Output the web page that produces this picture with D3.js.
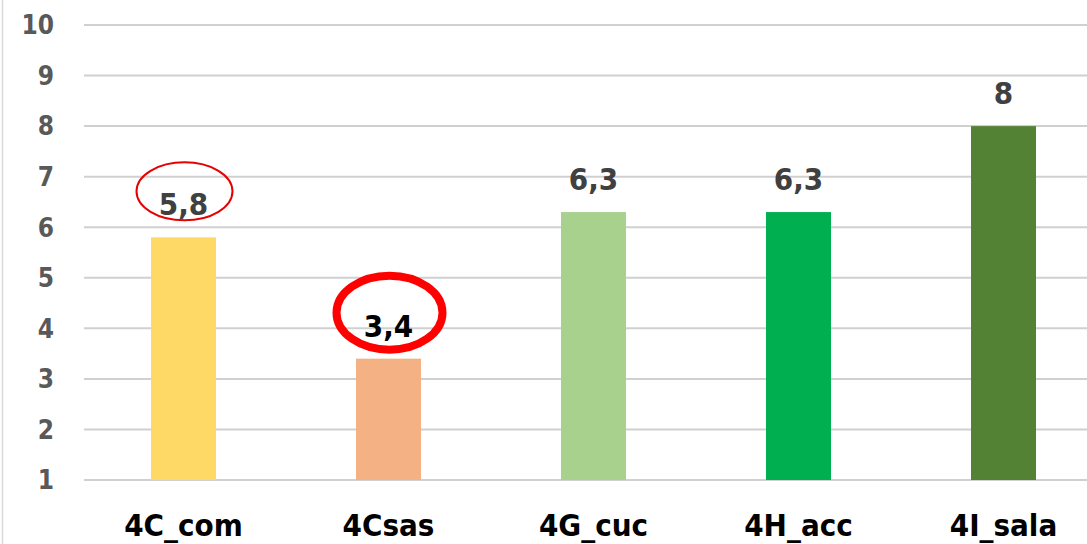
<!DOCTYPE html>
<html>
<head>
<meta charset="utf-8">
<script src="https://cdn.jsdelivr.net/npm/d3@7"></script>
<style>
  body { margin: 0; background: #fff; }
  svg { display: block; }
  .lbl { font-family: "Liberation Sans Narrow", "DejaVu Sans Condensed", Arial, sans-serif; font-weight: bold; }
</style>
</head>
<body>
<div id="chart"></div>
<script>
const categories = ['4C_com', '4Csas', '4G_cuc', '4H_acc', '4I_sala'];
const values = [5.8, 3.4, 6.3, 6.3, 8];
const valueLabels = ['5,8', '3,4', '6,3', '6,3', '8'];
const yTicks = [1, 2, 3, 4, 5, 6, 7, 8, 9, 10];
const barColors = ['#FFD966', '#F4B183', '#A9D18E', '#00B050', '#548235'];
// which labels got circled in red (thin / thick)
const circled = [{ cat: '4C_com', stroke: 2 }, { cat: '4Csas', stroke: 8 }];

const width = 1087, height = 544;

const svg = d3.select('#chart').append('svg')
  .attr('width', width)
  .attr('height', height);

// frame line on the left
svg.append('line')
  .attr('x1', 2.5).attr('x2', 2.5).attr('y1', 0).attr('y2', height)
  .attr('stroke', '#d9d9d9').attr('stroke-width', 1.5);

var x = d3.scaleBand()
  .domain(categories)
  .range([81, 1106])
  .paddingInner(0.683)
  .paddingOuter(0.683 / 2);

var y = d3.scaleLinear().domain([1, 10]).range([480, 25]);

// gridlines
svg.append('g')
  .selectAll('line')
  .data(yTicks)
  .enter()
  .append('line')
  .attr('x1', 84).attr('x2', width)
  .attr('y1', d => y(d)).attr('y2', d => y(d))
  .attr('stroke', '#d0d0d0')
  .attr('stroke-width', 2);

// y tick labels
svg.append('g')
  .selectAll('text')
  .data(yTicks)
  .enter()
  .append('text')
  .attr('class', 'lbl')
  .attr('x', 54)
  .attr('y', d => y(d))
  .attr('dy', '0.36em')
  .attr('text-anchor', 'end')
  .attr('fill', '#595959')
  .style('font-size', '26px')
  .text(d => d);

// bars
svg.append('g')
  .selectAll('rect')
  .data(categories)
  .enter()
  .append('rect')
  .attr('x', d => x(d))
  .attr('width', x.bandwidth())
  .attr('y', (d, i) => y(values[i]))
  .attr('height', (d, i) => y(1) - y(values[i]))
  .attr('fill', (d, i) => barColors[i]);

// value labels
svg.append('g')
  .selectAll('text')
  .data(categories)
  .enter()
  .append('text')
  .attr('class', 'lbl')
  .attr('x', d => x(d) + x.bandwidth() / 2)
  .attr('y', (d, i) => y(values[i]) - 22)
  .attr('text-anchor', 'middle')
  .attr('fill', d => d === '4Csas' ? '#000' : '#404040')
  .style('font-size', '31px')
  .text((d, i) => valueLabels[i]);

// category labels
svg.append('g')
  .selectAll('text')
  .data(categories)
  .enter()
  .append('text')
  .attr('class', 'lbl')
  .attr('x', d => x(d) + x.bandwidth() / 2)
  .attr('y', 536)
  .attr('text-anchor', 'middle')
  .attr('fill', '#000')
  .style('font-size', '31px')
  .text(d => d);

// red ellipses around circled labels
svg.append('g')
  .selectAll('ellipse')
  .data(circled)
  .enter()
  .append('ellipse')
  .attr('cx', d => x(d.cat) + x.bandwidth() / 2 + 1)
  .attr('cy', d => y(values[categories.indexOf(d.cat)]) - 46)
  .attr('rx', d => d.stroke > 4 ? 53 : 48)
  .attr('ry', d => d.stroke > 4 ? 37 : 29)
  .attr('fill', 'none')
  .attr('stroke', d => d.stroke > 4 ? '#ff0000' : '#e60000')
  .attr('stroke-width', d => d.stroke);
</script>
</body>
</html>
